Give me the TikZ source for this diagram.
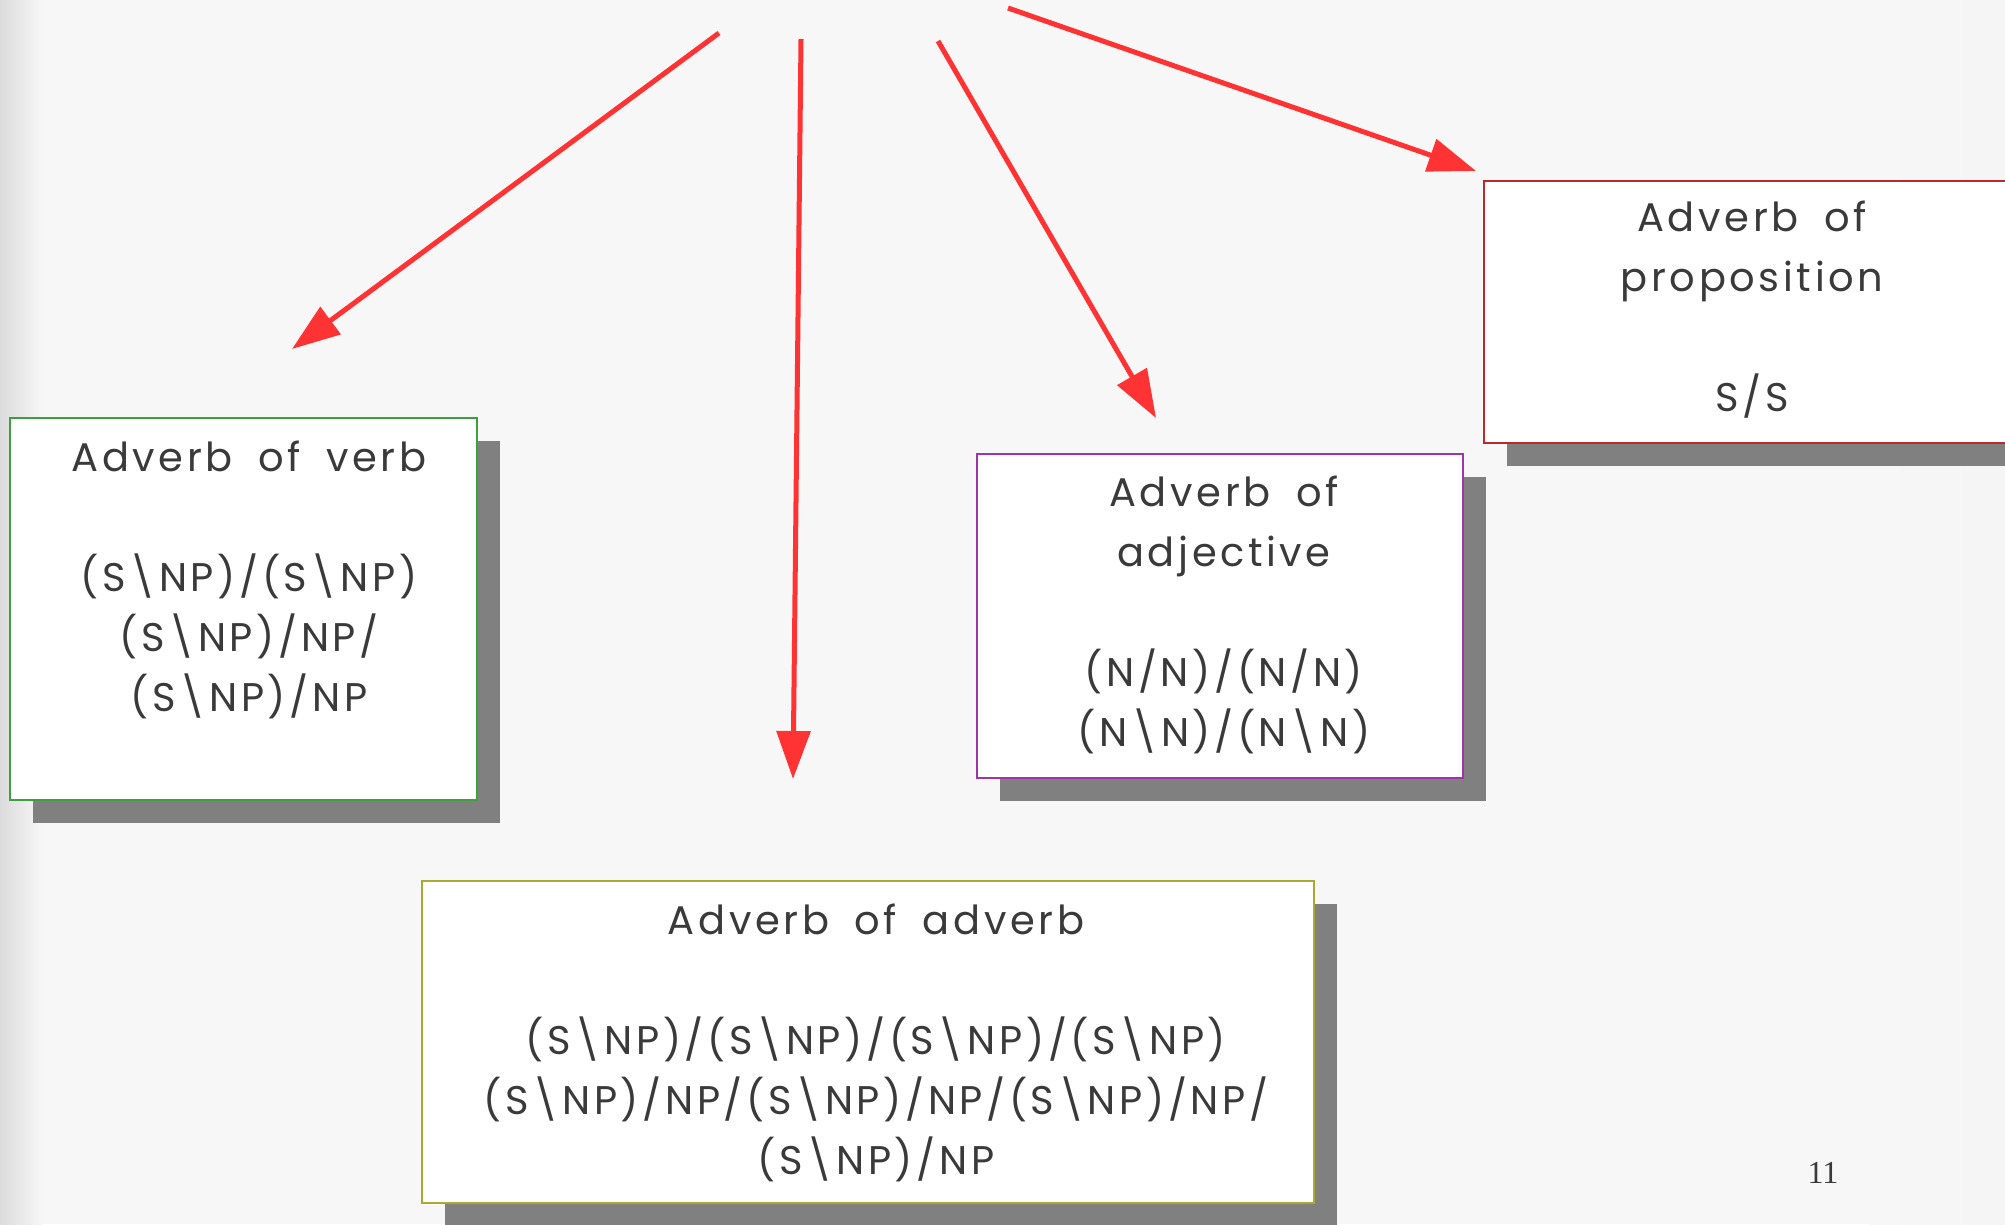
\documentclass[tikz,border=0pt]{standalone}
\usepackage{fontspec}
\setmainfont{Poppins}[LetterSpace=9,WordSpace=1.8]
\newfontfamily\pagefont{Liberation Serif}
\usetikzlibrary{arrows.meta, positioning, shadows}

\definecolor{paper}{RGB}{247,247,247}
\definecolor{ink}{RGB}{58,58,58}
\definecolor{shade}{RGB}{128,128,128}
\definecolor{arrowred}{RGB}{255,51,51}
\definecolor{verbgreen}{RGB}{60,160,60}
\definecolor{adjpurple}{RGB}{160,50,170}
\definecolor{propred}{RGB}{190,40,40}
\definecolor{advolive}{RGB}{170,170,50}

\newcommand{\bsl}{\textbackslash}

\begin{document}
\begin{tikzpicture}[x=0.75pt,y=0.75pt,yscale=-1,xscale=1,
  card/.style={draw=#1, fill=white, line width=0.9pt, inner sep=0pt,
    drop shadow={shadow xshift=17.25pt, shadow yshift=-17.25pt, opacity=1, fill=shade}},
  cat/.style={text=ink, align=center, inner sep=0pt, anchor=north,
    font=\fontsize{30}{45}\selectfont},
  pointer/.style={draw=arrowred, line width=3.75pt,
    -{Triangle[length=36pt,width=25pt]}}]
\useasboundingbox (0,0) rectangle (2005,1224);

%paper with a worn left edge
\fill[paper] (0,0) rectangle (2005,1224);
\fill[left color=gray!28, right color=paper] (0,0) rectangle (42,1224);
\fill[left color=paper, right color=gray!8] (1870,0) rectangle (2005,1224);

%Shape: Rectangle [verb]
\node[card=verbgreen, minimum width=350.25pt, minimum height=286.5pt] (verb) at (243.5,609) {};
%Shape: Rectangle [adjective]
\node[card=adjpurple, minimum width=364.5pt, minimum height=243pt] (adj) at (1220,616) {};
%Shape: Rectangle [proposition]
\node[card=propred, minimum width=409.5pt, minimum height=196.5pt] (prop) at (1757,312) {};
%Shape: Rectangle [adverb]
\node[card=advolive, minimum width=669pt, minimum height=241.5pt] (advb) at (868,1042) {};

% Text Node
\node[cat] (verbtxt) at (249,441) {Adverb of verb\\[45pt]
  (S\bsl NP)/(S\bsl NP)\\ (S\bsl NP)/NP/\\ (S\bsl NP)/NP};
% Text Node
\node[cat] (adjtxt) at (1224,476) {Adverb of\\ adjective\\[45pt]
  (N/N)/(N/N)\\ (N\bsl N)/(N\bsl N)};
% Text Node
\node[cat] (proptxt) at (1752,201) {Adverb of\\ proposition\\[45pt] S/S};
% Text Node
\node[cat] (advbtxt) at (876,904) {Adverb of adverb\\[45pt]
  (S\bsl NP)/(S\bsl NP)/(S\bsl NP)/(S\bsl NP)\\
  (S\bsl NP)/NP/(S\bsl NP)/NP/(S\bsl NP)/NP/\\ (S\bsl NP)/NP};

%Straight Lines [arrows]
\coordinate (src1) at (719,33);   \coordinate (tip1) at (292,349);
\coordinate (src2) at (801,39);   \coordinate (tip2) at (793,779);
\coordinate (src3) at (938,41);   \coordinate (tip3) at (1156,418);
\coordinate (src4) at (1008,8);   \coordinate (tip4) at (1476,171);
\draw[pointer] (src1) -- (tip1);
\draw[pointer] (src2) -- (tip2);
\draw[pointer] (src3) -- (tip3);
\draw[pointer] (src4) -- (tip4);

% Text Node
\node[anchor=base, text=ink, inner sep=0pt, font=\pagefont\fontsize{24}{24}\selectfont] (pagenum) at (1823,1183) {11};

\end{tikzpicture}
\end{document}
